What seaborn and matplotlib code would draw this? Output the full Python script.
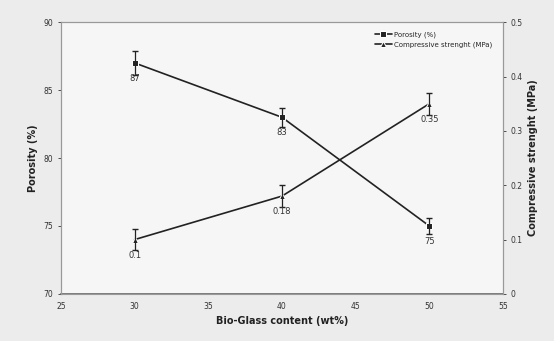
import matplotlib
matplotlib.use("Agg")
import matplotlib.pyplot as plt
import seaborn as sns
import pandas as pd

bio_glass = [30, 40, 50]
porosity = [87, 83, 75]
porosity_err = [0.9, 0.7, 0.6]
strength = [0.1, 0.18, 0.35]
strength_err = [0.02, 0.02, 0.02]
porosity_labels = ["87", "83", "75"]
strength_labels = ["0.1", "0.18", "0.35"]

sns.set_style("white")
plt.rcParams['font.family'] = ['DejaVu Sans']

df = pd.DataFrame({"x": bio_glass, "por": porosity, "str": strength})

fig = plt.figure(figsize=(5.54, 3.41), dpi=100, facecolor="#ececec")
ax = fig.add_axes([0.110, 0.138, 0.798, 0.797])
ax.set_facecolor("#f6f6f6")
ax2 = ax.twinx()

sns.lineplot(data=df, x="x", y="por", ax=ax, color="#222222", marker="s",
             markersize=5, linewidth=1.2, label="Porosity (%)", legend=False)
ax.errorbar(bio_glass, porosity, yerr=porosity_err, fmt="none", ecolor="#222222",
            elinewidth=0.9, capsize=2)
sns.lineplot(data=df, x="x", y="str", ax=ax2, color="#222222", marker="^",
             markersize=5, linewidth=1.2, label="Compressive strenght (MPa)", legend=False)
ax2.errorbar(bio_glass, strength, yerr=strength_err, fmt="none", ecolor="#222222",
             elinewidth=0.9, capsize=2)

for x, y, t in zip(bio_glass, porosity, porosity_labels):
    ax.annotate(t, (x, y), xytext=(0, -13), textcoords="offset points",
                ha="center", fontsize=6, color="#333333")
for x, y, t in zip(bio_glass, strength, strength_labels):
    ax2.annotate(t, (x, y), xytext=(0, -13), textcoords="offset points",
                 ha="center", fontsize=6, color="#333333")

ax.set_xlim(25, 55)
ax.set_ylim(70, 90)
ax2.set_ylim(0, 0.5)
ax.set_xticks([25, 30, 35, 40, 45, 50, 55])
ax.set_yticks([70, 75, 80, 85, 90])
ax2.set_yticks([0, 0.1, 0.2, 0.3, 0.4, 0.5])
ax2.set_yticklabels(["0", "0.1", "0.2", "0.3", "0.4", "0.5"])

for a in (ax, ax2):
    a.tick_params(axis="both", labelsize=5.5, colors="#333333", length=2, width=0.6)
    for s in a.spines.values():
        s.set_color("#999999")
        s.set_linewidth(0.8)
ax.spines["bottom"].set_color("#666666")
ax.spines["bottom"].set_linewidth(1.2)

ax.set_xlabel("Bio-Glass content (wt%)", fontsize=7, fontweight="bold", color="#222222")
ax.set_ylabel("Porosity (%)", fontsize=7, fontweight="bold", color="#222222")
ax2.set_ylabel("Compressive strenght (MPa)", fontsize=7, fontweight="bold", color="#222222")

h1, l1 = ax.get_legend_handles_labels()
h2, l2 = ax2.get_legend_handles_labels()
ax2.legend(h1 + h2, l1 + l2, loc="upper right", bbox_to_anchor=(0.99, 0.99),
           fontsize=5, frameon=False, handlelength=2.5, handletextpad=0.3,
           labelspacing=0.5)

fig.savefig("out.png", dpi=100, facecolor=fig.get_facecolor())
